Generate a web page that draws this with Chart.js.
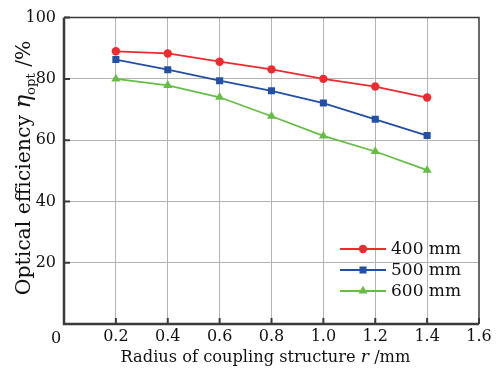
<!DOCTYPE html>
<html>
<head>
<meta charset="utf-8">
<script src="https://cdn.jsdelivr.net/npm/chart.js@4/dist/chart.umd.min.js"></script>
<style>
  html, body { margin: 0; padding: 0; background: #fff; }
  #wrap { width: 496px; height: 368px; }
</style>
</head>
<body>
<div id="wrap"><canvas id="effChart" width="496" height="368"></canvas></div>
<script>
const radius = [0.2, 0.4, 0.6, 0.8, 1.0, 1.2, 1.4];
const eff400 = [89.0, 88.3, 85.6, 83.1, 80.0, 77.5, 73.9];
const eff500 = [86.3, 83.0, 79.4, 76.1, 72.1, 66.8, 61.5];
const eff600 = [80.0, 77.9, 74.0, 67.8, 61.4, 56.3, 50.2];
const seriesNames = ["400 mm", "500 mm", "600 mm"];
const yTicks = [0, 20, 40, 60, 80, 100];

const FONT = "'DejaVu Serif', 'Liberation Serif', serif";

function points(vals) {
  return radius.map((r, i) => ({ x: r, y: vals[i] }));
}

function series(label, vals, color, style, size) {
  return {
    label: label,
    data: points(vals),
    borderColor: color,
    backgroundColor: color,
    borderWidth: 1.8,
    pointStyle: style,
    pointRadius: size,
    pointBorderWidth: 0,
    pointHoverRadius: size,
    tension: 0,
  };
}

// draw a run of text parts, scaled so the whole run is `width` px long
function fitRun(ctx, parts, width, x, y) {
  let total = 0;
  parts.forEach(p => { ctx.font = p.style + " " + p.size + "px " + FONT; total += ctx.measureText(p.text).width; });
  const k = width / total;
  let cx = x - width / 2;
  parts.forEach(p => {
    ctx.font = p.style + " " + (p.size * k) + "px " + FONT;
    ctx.fillText(p.text, cx, y + (p.dy || 0) * k);
    cx += ctx.measureText(p.text).width;
  });
}

// frame, inward ticks, axis titles and the legend inside the plot
const decorations = {
  id: "decorations",
  afterDraw(chart) {
    const ctx = chart.ctx;
    const a = chart.chartArea;
    const xs = chart.scales.x;
    const ys = chart.scales.y;
    ctx.save();
    ctx.textAlign = "left";

    // frame
    ctx.strokeStyle = "#3a3a3a";
    ctx.lineWidth = 1.5;
    ctx.beginPath();
    ctx.moveTo(a.left, a.top);
    ctx.lineTo(a.right, a.top);
    ctx.lineTo(a.right, a.bottom);
    ctx.stroke();
    ctx.lineWidth = 2.5;
    ctx.beginPath();
    ctx.moveTo(a.left, a.top);
    ctx.lineTo(a.left, a.bottom);
    ctx.lineTo(a.right, a.bottom);
    ctx.stroke();

    // inward ticks
    ctx.lineWidth = 2;
    ctx.beginPath();
    xs.ticks.forEach(t => {
      const px = xs.getPixelForValue(t.value);
      ctx.moveTo(px, a.bottom);
      ctx.lineTo(px, a.bottom - 6);
    });
    ys.ticks.forEach(t => {
      const py = ys.getPixelForValue(t.value);
      ctx.moveTo(a.left, py);
      ctx.lineTo(a.left + 6, py);
    });
    ctx.stroke();

    // x title
    ctx.fillStyle = "#111";
    ctx.textBaseline = "alphabetic";
    fitRun(ctx, [
      { text: "Radius of coupling structure ", style: "normal", size: 17 },
      { text: "r", style: "italic", size: 18 },
      { text: " /mm", style: "normal", size: 17 },
    ], 290, (a.left + a.right) / 2 - 6, 362);

    // y title, rotated, with subscript
    ctx.translate(30, (a.top + a.bottom) / 2 - 3);
    ctx.rotate(-Math.PI / 2);
    fitRun(ctx, [
      { text: "Optical efficiency ", style: "normal", size: 17 },
      { text: "\u03B7", style: "italic", size: 19 },
      { text: "opt", style: "normal", size: 11, dy: 4 },
      { text: " /%", style: "normal", size: 17 },
    ], 255, 0, 0);
    ctx.setTransform(1, 0, 0, 1, 0, 0);

    // legend
    const lx0 = a.right - 139;
    const lx1 = a.right - 93;
    const ly0 = a.bottom - 75;
    chart.data.datasets.forEach((ds, i) => {
      const y = ly0 + i * 21;
      ctx.strokeStyle = ds.borderColor;
      ctx.fillStyle = ds.backgroundColor;
      ctx.lineWidth = 1.8;
      ctx.beginPath();
      ctx.moveTo(lx0, y);
      ctx.lineTo(lx1, y);
      ctx.stroke();
      Chart.helpers.drawPoint(ctx, {
        pointStyle: ds.pointStyle,
        radius: ds.pointRadius,
        rotation: 0,
        borderWidth: 0,
      }, (lx0 + lx1) / 2, y);
      ctx.fillStyle = "#111";
      ctx.font = "17px " + FONT;
      ctx.textBaseline = "middle";
      ctx.fillText(ds.label, lx1 + 5, y + 1);
    });

    // shared "0" at the corner of the axes
    ctx.font = "16px " + FONT;
    ctx.textAlign = "center";
    ctx.textBaseline = "alphabetic";
    ctx.fillText("0", a.left - 8, a.bottom + 19);
    ctx.restore();
  },
};

new Chart(document.getElementById("effChart").getContext("2d"), {
  type: "line",
  data: {
    datasets: [
      series(seriesNames[0], eff400, "#ee2a2e", "circle", 4.2),
      series(seriesNames[1], eff500, "#2350a6", "rect", 5),
      series(seriesNames[2], eff600, "#66bd45", "triangle", 5.2),
    ],
  },
  options: {
    responsive: false,
    animation: false,
    layout: { padding: { top: 16, right: 17, bottom: 0, left: 0 } },
    plugins: {
      legend: { display: false },
      tooltip: { enabled: false },
    },
    scales: {
      x: {
        type: "linear",
        min: 0,
        max: 1.6,
        afterFit(scale) { scale.height = 44; },
        ticks: {
          stepSize: 0.2,
          padding: 3,
          color: "#111",
          font: { family: FONT, size: 16 },
          callback: v => (Math.abs(v) < 1e-9 ? "" : v.toFixed(1)),
        },
        border: { display: false },
        grid: {
          drawTicks: false,
          lineWidth: 1,
          color: ctx => {
            const v = ctx.tick.value;
            if (Math.abs(v) < 1e-9 || Math.abs(v - 1.6) < 1e-9) return "rgba(0,0,0,0)";
            return "#b3b3b3";
          },
        },
      },
      y: {
        min: yTicks[0],
        max: yTicks[yTicks.length - 1],
        afterFit(scale) { scale.width = 64; },
        afterBuildTicks(scale) { scale.ticks = yTicks.map(v => ({ value: v })); },
        ticks: {
          padding: 8,
          color: "#111",
          font: { family: FONT, size: 16 },
          callback: v => (v === 0 ? "" : String(v)),
        },
        border: { display: false },
        grid: {
          drawTicks: false,
          lineWidth: 1,
          color: ctx => {
            const v = ctx.tick.value;
            if (v === 0 || v === 100) return "rgba(0,0,0,0)";
            return "#b3b3b3";
          },
        },
      },
    },
  },
  plugins: [decorations],
});
</script>
</body>
</html>
